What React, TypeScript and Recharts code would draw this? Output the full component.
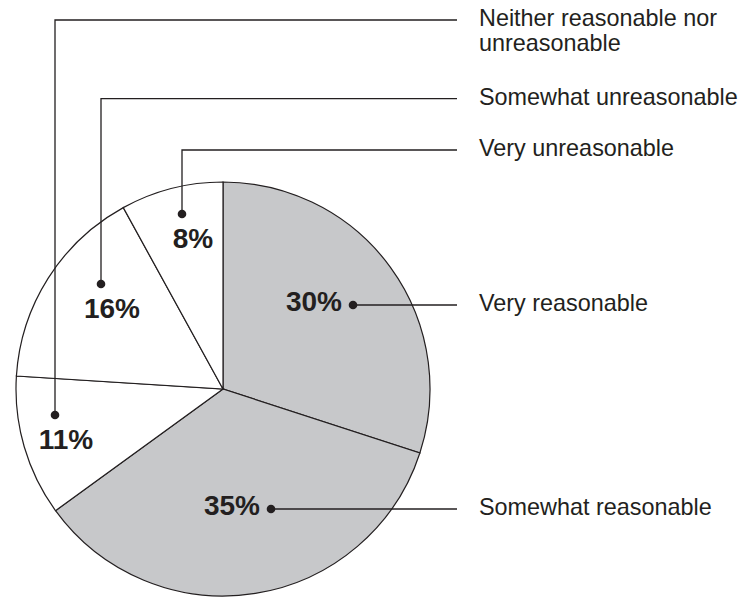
import React from "react";
import { PieChart, Pie, Cell } from "recharts";

// Survey response categories, in drawing order (clockwise from 12 o'clock)
const categories = [
  "Very reasonable",
  "Somewhat reasonable",
  "Neither reasonable nor unreasonable",
  "Somewhat unreasonable",
  "Very unreasonable",
];
const shares = [30, 35, 11, 16, 8];
// Legend text, split into lines
const legendLines = [
  ["Very reasonable"],
  ["Somewhat reasonable"],
  ["Neither reasonable nor", "unreasonable"],
  ["Somewhat unreasonable"],
  ["Very unreasonable"],
];

const data = categories.map((name, i) => ({ name, value: shares[i] }));

const W = 744;
const H = 597;
const CX = 223;
const CY = 389;
const R = 207;
const INK = "#231f20";
const GRAY = "#c7c8ca";
const fills = [GRAY, GRAY, "#ffffff", "#ffffff", "#ffffff"];

// Callout layout: dot offset from pie centre, leader style and row height
const callouts = [
  { dx: 130, dy: -84, kind: "side", rowY: null as number | null },
  { dx: 48, dy: 120, kind: "side", rowY: null },
  { dx: -168, dy: 26, kind: "up", rowY: 20 },
  { dx: -122, dy: -105, kind: "up", rowY: 98.7 },
  { dx: -41, dy: -175, kind: "up", rowY: 150 },
];
const LEADER_END = 457;
const TEXT_X = 479;

const FONT = "'Liberation Sans', Arial, Helvetica, sans-serif";

function renderCallout(props: any) {
  const { cx, cy, index, value } = props;
  const c = callouts[index];
  const px = cx + c.dx;
  const py = cy + c.dy;
  const rowY = c.rowY == null ? py : c.rowY;
  const path =
    c.kind === "up"
      ? `M${px},${py} L${px},${rowY} L${LEADER_END},${rowY}`
      : `M${px},${py} L${LEADER_END},${py}`;
  const lines = legendLines[index];
  return (
    <g key={`callout-${index}`}>
      <path d={path} fill="none" stroke={INK} strokeWidth={1.3} />
      <circle cx={px} cy={py} r={4.3} fill={INK} />
      {c.kind === "up" ? (
        <text
          x={px + 11}
          y={py + 33.5}
          textAnchor="middle"
          fontFamily={FONT}
          fontWeight="bold"
          fontSize={28}
          fill={INK}
        >
          {`${value}%`}
        </text>
      ) : (
        <text
          x={px - 11}
          y={py + 5.5}
          textAnchor="end"
          fontFamily={FONT}
          fontWeight="bold"
          fontSize={28}
          fill={INK}
        >
          {`${value}%`}
        </text>
      )}
      <text fontFamily={FONT} fontSize={23.4} fill={INK}>
        {lines.map((ln, k) => (
          <tspan key={k} x={TEXT_X} y={rowY + 6.3 + k * 25}>
            {ln}
          </tspan>
        ))}
      </text>
    </g>
  );
}

export default function App() {
  return (
    <div style={{ position: "absolute", left: 0, top: 0, width: W, height: H, background: "#fff" }}>
      <PieChart width={W} height={H} margin={{ top: 0, right: 0, bottom: 0, left: 0 }}>
        <Pie
          data={data}
          dataKey="value"
          nameKey="name"
          cx={CX}
          cy={CY}
          outerRadius={R}
          startAngle={90}
          endAngle={-270}
          stroke={INK}
          strokeWidth={1.2}
          isAnimationActive={false}
          labelLine={false}
          label={renderCallout}
        >
          {data.map((d, i) => (
            <Cell key={d.name} fill={fills[i]} />
          ))}
        </Pie>
      </PieChart>
    </div>
  );
}
